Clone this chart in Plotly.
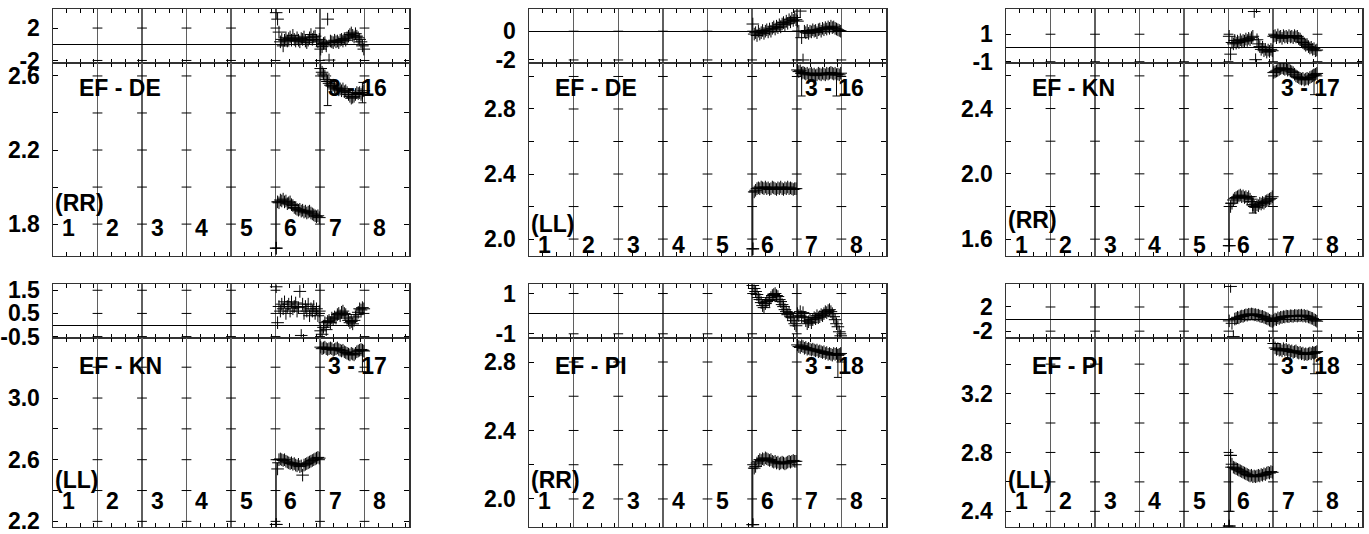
import plotly.graph_objects as go

FONT = "Liberation Sans, Arial, Helvetica, sans-serif"
N_IF = 8
N_CH = 32
IF_NAMES = ["1", "2", "3", "4", "5", "6", "7", "8"]
MINOR_FRAC = [0.31, 0.62, 0.92]

# ---------------- Panel 1 : EF - DE (RR), scan 3 - 16 ----------------
p1_base = "EF - DE"
p1_pol = "(RR)"
p1_scan = "3 - 16"
p1_ph_if6 = [3.9, 3.1, 1.5, 0.3, 0.6, -0.2, 0.5, 0.8, 0.4, 0.7, 0.9, 0.5, 1.1, 0.6, 0.4, 0.8,
             0.5, 0.3, 0.7, 0.6, 0.9, 0.4, 0.2, 0.5, 0.8, 1.2, 0.6, 0.9, 1.0, 0.5, 0.3, 0.6]
p1_ph_if7 = [-0.6, -0.3, 0.1, 0.2, -0.2, 3.1, -1.95, 0.4, 0.3, 0.2, 0.5, 0.3, 0.4, 0.2, 0.5, 0.6,
             0.4, 0.7, 0.5, 0.8, 1.0, 1.2, 1.4, 1.1, 0.9, 1.3, 1.0, 0.8, 0.6, 0.3, -0.2, -0.6]
p1_amp_if6 = [1.67, 1.92, 1.915, 1.93, 1.925, 1.935, 1.92, 1.925, 1.91, 1.915, 1.92, 1.905, 1.90, 1.89, 1.885, 1.88,
              1.875, 1.88, 1.87, 1.875, 1.865, 1.87, 1.86, 1.865, 1.87, 1.86, 1.855, 1.85, 1.845, 1.84, 1.845, 1.835]
p1_amp_if7 = [2.64, 2.62, 2.61, 2.60, 2.58, 2.57, 2.56, 2.55, 2.545, 2.55, 2.54, 2.53, 2.535, 2.525, 2.53, 2.52,
              2.53, 2.515, 2.52, 2.51, 2.50, 2.49, 2.48, 2.485, 2.49, 2.50, 2.51, 2.505, 2.51, 2.50, 2.51, 2.52]
p1_err_if6 = [(0, 0.25, 0.0)]
p1_err_if7 = [(5, 0.0, 0.13), (30, 0.055, 0.055)]
p1_ph_ticks = [-2, 2]
p1_ph_text = ["-2", "2"]
p1_amp_ticks = [1.8, 2.0, 2.2, 2.4, 2.6]
p1_amp_text = ["1.8", "", "2.2", "", "2.6"]

# ---------------- Panel 2 : EF - DE (LL), scan 3 - 16 ----------------
p2_base = "EF - DE"
p2_pol = "(LL)"
p2_scan = "3 - 16"
p2_ph_if6 = [0.5, -0.2, -0.1, -0.3, 0.0, -0.2, -0.1, 0.05, -0.15, 0.0, 0.1, -0.05, 0.15, 0.0, 0.2, 0.3,
             0.15, 0.35, 0.25, 0.45, 0.3, 0.5, 0.6, 0.45, 0.7, 0.55, 0.8, 0.65, 0.9, 0.75, 0.95, 0.8]
p2_ph_if7 = [0.7, 0.0, 1.4, -0.45, -2.0, 0.0, -0.1, 0.05, -0.15, 0.0, -0.05, 0.1, 0.0, 0.05, -0.1, 0.1,
             0.15, 0.0, 0.2, 0.1, 0.25, 0.15, 0.3, 0.2, 0.35, 0.25, 0.3, 0.2, 0.15, 0.1, 0.05, 0.0]
p2_amp_if6 = [1.94, 2.29, 2.30, 2.31, 2.315, 2.31, 2.32, 2.315, 2.31, 2.32, 2.31, 2.315, 2.305, 2.31, 2.32, 2.315,
              2.31, 2.305, 2.315, 2.31, 2.32, 2.31, 2.305, 2.315, 2.31, 2.32, 2.31, 2.315, 2.31, 2.305, 2.31, 2.31]
p2_amp_if7 = [3.04, 3.03, 3.035, 3.02, 3.025, 3.02, 3.015, 3.02, 3.01, 3.015, 3.02, 3.01, 3.015, 3.005, 3.01, 3.02,
              3.015, 3.01, 3.02, 3.015, 3.01, 3.02, 3.015, 3.02, 3.025, 3.02, 3.015, 3.02, 3.01, 3.015, 3.01, 3.02]
p2_err_if6 = [(0, 0.35, 0.0)]
p2_err_if7 = [(3, 0.0, 0.14), (28, 0.0, 0.13)]
p2_ph_ticks = [-2, 0]
p2_ph_text = ["-2", "0"]
p2_amp_ticks = [2.0, 2.2, 2.4, 2.6, 2.8, 3.0]
p2_amp_text = ["2.0", "", "2.4", "", "2.8", ""]

# ---------------- Panel 3 : EF - KN (RR), scan 3 - 17 ----------------
p3_base = "EF - KN"
p3_pol = "(RR)"
p3_scan = "3 - 17"
p3_ph_if6 = [0.85, -0.45, 0.4, 0.3, 0.55, 0.35, 0.5, 0.4, 0.6, 0.45, 0.55, 0.5, 0.65, 0.55, 0.7, 0.6,
             0.75, 0.85, 2.65, -0.85, 0.6, 0.3, 0.1, -0.1, 0.05, -0.2, -0.1, -0.3, -0.15, -0.25, -0.1, -0.2]
p3_ph_if7 = [0.85, 0.9, 0.75, 0.95, 0.8, 0.85, 0.7, 0.9, 0.8, 0.85, 0.75, 0.9, 0.8, 0.85, 0.75, 0.9,
             0.8, 0.85, 0.7, 0.65, 0.5, 0.4, 0.3, 0.2, 0.25, 0.1, 0.0, 0.05, -0.1, -0.05, -0.2, -0.15]
p3_amp_if6 = [1.56, 1.80, 1.82, 1.84, 1.85, 1.855, 1.86, 1.865, 1.87, 1.86, 1.865, 1.855, 1.86, 1.85, 1.86, 1.845,
              1.83, 1.81, 1.80, 1.795, 1.81, 1.805, 1.82, 1.815, 1.825, 1.82, 1.83, 1.835, 1.84, 1.845, 1.85, 1.86]
p3_amp_if7 = [2.62, 2.625, 2.63, 2.635, 2.64, 2.645, 2.65, 2.645, 2.64, 2.645, 2.635, 2.64, 2.63, 2.625, 2.62, 2.61,
              2.60, 2.595, 2.59, 2.585, 2.58, 2.585, 2.575, 2.58, 2.585, 2.58, 2.59, 2.595, 2.60, 2.605, 2.61, 2.615]
p3_err_if6 = [(0, 0.26, 0.0), (17, 0.05, 0.05)]
p3_err_if7 = [(29, 0.0, 0.12)]
p3_ph_ticks = [-1, 1]
p3_ph_text = ["-1", "1"]
p3_amp_ticks = [1.6, 1.8, 2.0, 2.2, 2.4, 2.6]
p3_amp_text = ["1.6", "", "2.0", "", "2.4", ""]

# ---------------- Panel 4 : EF - KN (LL), scan 3 - 17 ----------------
p4_base = "EF - KN"
p4_pol = "(LL)"
p4_scan = "3 - 17"
p4_ph_if6 = [1.65, 0.1, 0.8, 0.6, 0.9, 0.7, 1.0, 0.5, 0.8, 0.9, 0.6, 1.0, 0.7, 0.8, 0.95, 0.6,
             0.75, 1.45, -0.45, 0.9, 0.5, 0.8, 0.6, 0.9, 0.4, 0.7, 0.6, 0.8, 0.5, 0.7, 0.4, 0.6]
p4_ph_if7 = [-0.25, -0.4, -0.1, 0.1, -0.2, 0.15, 0.2, 0.1, 0.3, 0.25, 0.35, 0.3, 0.45, 0.5, 0.4, 0.55,
             0.6, 0.5, 0.45, 0.3, 0.2, 0.1, 0.15, 0.05, 0.2, 0.35, 0.45, 0.55, 0.7, 0.65, 0.75, 0.7]
p4_amp_if6 = [2.18, 2.54, 2.60, 2.605, 2.60, 2.595, 2.60, 2.59, 2.585, 2.58, 2.575, 2.58, 2.57, 2.575, 2.565, 2.56,
              2.57, 2.555, 2.56, 2.50, 2.565, 2.57, 2.575, 2.58, 2.585, 2.59, 2.595, 2.60, 2.605, 2.61, 2.615, 2.61]
p4_amp_if7 = [3.33, 3.32, 3.325, 3.33, 3.32, 3.315, 3.32, 3.325, 3.32, 3.31, 3.315, 3.32, 3.325, 3.315, 3.31, 3.305,
              3.31, 3.30, 3.295, 3.29, 3.285, 3.28, 3.29, 3.285, 3.28, 3.29, 3.30, 3.305, 3.31, 3.315, 3.31, 3.305]
p4_err_if6 = [(0, 0.40, 0.0)]
p4_err_if7 = [(30, 0.0, 0.14)]
p4_ph_ticks = [-0.5, 0.5, 1.5]
p4_ph_text = ["-0.5", "0.5", "1.5"]
p4_amp_ticks = [2.2, 2.4, 2.6, 2.8, 3.0, 3.2]
p4_amp_text = ["2.2", "", "2.6", "", "3.0", ""]

# ---------------- Panel 5 : EF - PI (RR), scan 3 - 18 ----------------
p5_base = "EF - PI"
p5_pol = "(RR)"
p5_scan = "3 - 18"
p5_ph_if6 = [1.4, 1.25, 1.1, 0.95, 0.8, 0.7, 0.55, 0.4, 0.3, 0.5, 0.6, 0.7, 0.65, 0.8, 0.9, 0.95,
             1.0, 0.9, 0.85, 0.7, 0.6, 0.45, 0.35, 0.2, 0.1, -0.05, 0.05, -0.15, -0.2, -0.35, -0.5, -0.6]
p5_ph_if7 = [0.0, -0.1, 0.1, -0.15, 0.05, -0.2, -0.35, -0.5, -0.4, -0.3, -0.45, -0.3, -0.2, -0.25, -0.1, -0.2,
             -0.15, -0.05, -0.1, 0.0, 0.1, 0.05, 0.15, 0.2, 0.1, 0.0, -0.15, -0.3, -0.5, -0.65, -0.9, -1.1]
p5_amp_if6 = [1.85, 2.18, 2.19, 2.21, 2.22, 2.23, 2.225, 2.235, 2.23, 2.24, 2.235, 2.23, 2.225, 2.23, 2.22, 2.215,
              2.22, 2.21, 2.215, 2.205, 2.21, 2.215, 2.21, 2.205, 2.21, 2.215, 2.22, 2.215, 2.22, 2.225, 2.22, 2.22]
p5_amp_if7 = [2.90, 2.89, 2.885, 2.895, 2.89, 2.88, 2.885, 2.875, 2.88, 2.875, 2.87, 2.875, 2.87, 2.865, 2.87, 2.86,
              2.865, 2.86, 2.855, 2.86, 2.85, 2.855, 2.845, 2.85, 2.845, 2.84, 2.85, 2.845, 2.85, 2.84, 2.845, 2.85]
p5_err_if6 = [(0, 0.33, 0.0)]
p5_err_if7 = [(29, 0.0, 0.13)]
p5_ph_ticks = [-1, 1]
p5_ph_text = ["-1", "1"]
p5_amp_ticks = [2.0, 2.2, 2.4, 2.6, 2.8]
p5_amp_text = ["2.0", "", "2.4", "", "2.8"]

# ---------------- Panel 6 : EF - PI (LL), scan 3 - 18 ----------------
p6_base = "EF - PI"
p6_pol = "(LL)"
p6_scan = "3 - 18"
p6_ph_if6 = [-0.3, 5.4, -0.7, -2.9, 0.0, 0.1, 0.3, 0.2, 0.4, 0.5, 0.45, 0.6, 0.7, 0.65, 0.8, 0.75,
             0.85, 0.8, 0.7, 0.75, 0.6, 0.65, 0.5, 0.4, 0.45, 0.3, 0.2, 0.1, 0.0, -0.2, -0.3, -0.4]
p6_ph_if7 = [-0.2, 0.0, -0.1, 0.2, 0.1, 0.3, 0.25, 0.4, 0.35, 0.5, 0.45, 0.4, 0.55, 0.5, 0.45, 0.6,
             0.55, 0.5, 0.6, 0.55, 0.65, 0.5, 0.6, 0.45, 0.5, 0.35, 0.3, 0.15, 0.1, -0.1, -0.2, -0.35]
p6_amp_if6 = [2.30, 2.78, 2.72, 2.70, 2.695, 2.69, 2.685, 2.68, 2.675, 2.67, 2.665, 2.66, 2.655, 2.65, 2.645, 2.64,
              2.645, 2.635, 2.64, 2.635, 2.64, 2.645, 2.64, 2.65, 2.645, 2.655, 2.65, 2.66, 2.665, 2.66, 2.67, 2.665]
p6_amp_if7 = [3.54, 3.51, 3.50, 3.505, 3.495, 3.50, 3.49, 3.505, 3.495, 3.50, 3.49, 3.495, 3.485, 3.49, 3.48, 3.485,
              3.49, 3.48, 3.475, 3.48, 3.47, 3.475, 3.465, 3.47, 3.465, 3.47, 3.475, 3.47, 3.48, 3.475, 3.48, 3.485]
p6_err_if6 = [(0, 0.40, 0.0), (1, 0.0, 0.38)]
p6_err_if7 = [(29, 0.0, 0.14)]
p6_ph_ticks = [-2, 2]
p6_ph_text = ["-2", "2"]
p6_amp_ticks = [2.4, 2.6, 2.8, 3.0, 3.2, 3.4]
p6_amp_text = ["2.4", "", "2.8", "", "3.2", ""]

panels = [
    dict(base=p1_base, pol=p1_pol, scan=p1_scan, ph6=p1_ph_if6, ph7=p1_ph_if7, a6=p1_amp_if6, a7=p1_amp_if7,
         e6=p1_err_if6, e7=p1_err_if7, pt=p1_ph_ticks, ptt=p1_ph_text, at=p1_amp_ticks, att=p1_amp_text),
    dict(base=p2_base, pol=p2_pol, scan=p2_scan, ph6=p2_ph_if6, ph7=p2_ph_if7, a6=p2_amp_if6, a7=p2_amp_if7,
         e6=p2_err_if6, e7=p2_err_if7, pt=p2_ph_ticks, ptt=p2_ph_text, at=p2_amp_ticks, att=p2_amp_text),
    dict(base=p3_base, pol=p3_pol, scan=p3_scan, ph6=p3_ph_if6, ph7=p3_ph_if7, a6=p3_amp_if6, a7=p3_amp_if7,
         e6=p3_err_if6, e7=p3_err_if7, pt=p3_ph_ticks, ptt=p3_ph_text, at=p3_amp_ticks, att=p3_amp_text),
    dict(base=p4_base, pol=p4_pol, scan=p4_scan, ph6=p4_ph_if6, ph7=p4_ph_if7, a6=p4_amp_if6, a7=p4_amp_if7,
         e6=p4_err_if6, e7=p4_err_if7, pt=p4_ph_ticks, ptt=p4_ph_text, at=p4_amp_ticks, att=p4_amp_text),
    dict(base=p5_base, pol=p5_pol, scan=p5_scan, ph6=p5_ph_if6, ph7=p5_ph_if7, a6=p5_amp_if6, a7=p5_amp_if7,
         e6=p5_err_if6, e7=p5_err_if7, pt=p5_ph_ticks, ptt=p5_ph_text, at=p5_amp_ticks, att=p5_amp_text),
    dict(base=p6_base, pol=p6_pol, scan=p6_scan, ph6=p6_ph_if6, ph7=p6_ph_if7, a6=p6_amp_if6, a7=p6_amp_if7,
         e6=p6_err_if6, e7=p6_err_if7, pt=p6_ph_ticks, ptt=p6_ph_text, at=p6_amp_ticks, att=p6_amp_text),
]

# ---------------- layout ----------------
W = 1369
H = 548                              # figure height (see screen mapping below)
SCR_OFF, SCR_SCALE = 6.07, 0.9645    # observed mapping: screen_y = off + scale * figure_y
col_px = [(53, 409), (529, 886), (1006, 1362)]
row_px = [((8, 62), (62, 255)), ((283.3, 337), (337, 526))]   # target screen pixels
ph_ranges = [[-2.31, 4.36], [-2.21, 1.55], [-1.09, 2.84], [-0.57, 1.75], [-1.22, 1.45], [-3.17, 5.73]]
amp_ranges = [[1.627, 2.670], [1.895, 3.083], [1.496, 2.679], [2.161, 3.388], [1.834, 2.939], [2.291, 3.576]]
pol_y = [0.276, 0.165, 0.185, 0.249, 0.249, 0.249]
num_y = [0.147, 0.06, 0.06, 0.138, 0.138, 0.138]
label_y = [0.87, 0.87, 0.87, 0.852, 0.852, 0.852]

BLACK = "black"
AXCOL = "#333333"
GRIDCOL = "#5f5f5f"
tickfont = dict(family=FONT, size=23, color=BLACK, weight="bold")
textfont = dict(family=FONT, size=23, color=BLACK, weight="bold")


def fig_y(screen_y):
    return (screen_y - SCR_OFF) / SCR_SCALE


def xdom(c):
    a, b = col_px[c]
    return [a / W, b / W]


def ydom(top, bot):
    return [1 - fig_y(bot) / H, 1 - fig_y(top) / H]


def chan_x(if_num):
    return [if_num - 1 + (c + 0.5) / N_CH for c in range(N_CH)]


minor_vals = [k + f for k in range(N_IF) for f in MINOR_FRAC]

fig = go.Figure()
annotations = []
layout = dict(width=W, height=H, margin=dict(l=0, r=0, t=0, b=0, pad=0), autosize=False,
              paper_bgcolor="white", plot_bgcolor="white", showlegend=False,
              hovermode=False)

marker = dict(symbol="cross-thin", size=9, color=BLACK, line=dict(width=1, color=BLACK))

for i, p in enumerate(panels):
    r, c = divmod(i, 3)
    (pt, pb), (at_, ab) = row_px[r]
    for sub in range(2):
        n = 2 * i + 1 + sub
        xa, ya = f"x{n}", f"y{n}"
        is_phase = sub == 0
        tv = p["pt"] if is_phase else p["at"]
        tt = p["ptt"] if is_phase else p["att"]
        rng = ph_ranges[i] if is_phase else amp_ranges[i]
        dom = ydom(pt, pb) if is_phase else ydom(at_, ab)
        layout[f"xaxis{n}"] = dict(
            domain=xdom(c), range=[0, N_IF], anchor=ya, showticklabels=False,
            tickmode="array", tickvals=list(range(1, N_IF)), ticks="",
            showgrid=True, gridcolor=GRIDCOL, gridwidth=1.5,
            showline=True, linecolor=AXCOL, linewidth=1, mirror="ticks", zeroline=False,
            minor=dict(tickmode="array", tickvals=minor_vals, ticks="inside", ticklen=4,
                       tickcolor=BLACK, tickwidth=1, showgrid=False),
            fixedrange=True)
        layout[f"yaxis{n}"] = dict(
            domain=dom, range=rng, anchor=xa, tickmode="array", tickvals=tv, ticktext=tt,
            ticks="inside", ticklen=5, tickcolor=BLACK, tickwidth=1,
            showgrid=False, showline=True, linecolor=AXCOL, linewidth=1.5, mirror="ticks",
            zeroline=is_phase, zerolinecolor=BLACK, zerolinewidth=1,
            tickfont=tickfont, ticklabelstandoff=7, fixedrange=True)

        # tick dashes on the inner IF boundaries
        dx = [k for v in tv for k in range(1, N_IF)]
        dy = [v for v in tv for k in range(1, N_IF)]
        fig.add_trace(go.Scatter(x=dx, y=dy, xaxis=xa, yaxis=ya, mode="markers",
                                 marker=dict(symbol="line-ew", size=7, color=BLACK,
                                             line=dict(width=1, color=BLACK))))

        # data
        s6 = p["ph6"] if is_phase else p["a6"]
        s7 = p["ph7"] if is_phase else p["a7"]
        for if_num, series in ((6, s6), (7, s7)):
            fig.add_trace(go.Scatter(x=chan_x(if_num), y=series, xaxis=xa, yaxis=ya,
                                     mode="markers", marker=marker))
        if not is_phase:
            for if_num, series, errs in ((6, s6, p["e6"]), (7, s7, p["e7"])):
                xs_all = chan_x(if_num)
                fig.add_trace(go.Scatter(
                    x=[xs_all[e[0]] for e in errs], y=[series[e[0]] for e in errs],
                    xaxis=xa, yaxis=ya, mode="markers", marker=marker,
                    error_y=dict(type="data", symmetric=False,
                                 array=[e[1] for e in errs], arrayminus=[e[2] for e in errs],
                                 color=BLACK, thickness=1, width=4)))

            # annotations inside the amplitude frame
            annotations.append(dict(text=p["base"], xref=f"{xa} domain", yref=f"{ya} domain",
                                    x=0.067, y=label_y[i], xanchor="left", yanchor="middle",
                                    showarrow=False, font=textfont))
            annotations.append(dict(text=p["scan"], xref=f"{xa} domain", yref=f"{ya} domain",
                                    x=0.945, y=label_y[i], xanchor="right", yanchor="middle",
                                    showarrow=False, font=textfont))
            annotations.append(dict(text=p["pol"], xref=f"{xa} domain", yref=f"{ya} domain",
                                    x=0.0, y=pol_y[i], xanchor="left", yanchor="middle",
                                    showarrow=False, font=textfont))
            for k, name in enumerate(IF_NAMES):
                annotations.append(dict(text=name, xref=xa, yref=f"{ya} domain",
                                        x=k + 0.34, y=num_y[i], xanchor="center", yanchor="middle",
                                        showarrow=False, font=textfont))

layout["annotations"] = annotations
fig.update_layout(**layout)

PAGE_FIX = (
    "var s=document.createElement('style');"
    "s.innerHTML='html,body{margin:0!important;padding:0!important;overflow:hidden!important;}';"
    "document.head.appendChild(s);"
)
fig.write_html("out.html", config={"displayModeBar": False, "staticPlot": True},
               post_script=PAGE_FIX)
